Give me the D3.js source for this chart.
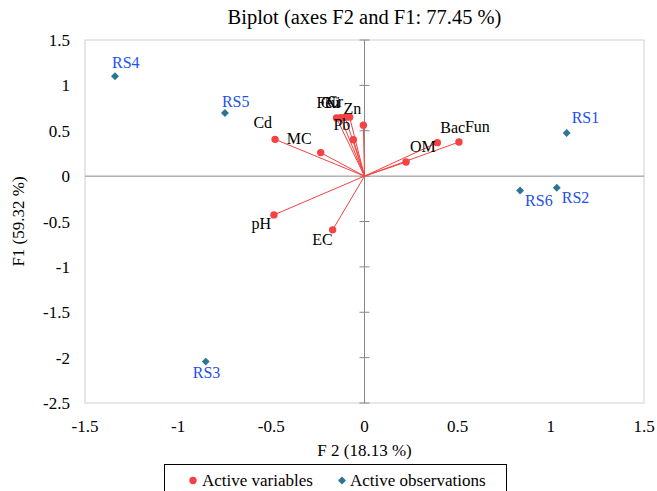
<!DOCTYPE html>
<html>
<head>
<meta charset="utf-8">
<script src="https://cdn.jsdelivr.net/npm/d3@7"></script>
<style>
  body { margin: 0; background: #fff; }
  text { font-family: "Liberation Serif", "Times New Roman", serif; }
</style>
</head>
<body>
<script>
// active variables (loadings on F2, F1)
const varNames = ["Cd", "MC", "pH", "EC", "Pb", "Ni", "Fe", "Cu", "Cr", "Zn", "OM", "Bac", "Fun"];
const varF2 = [-0.48, -0.235, -0.486, -0.171, -0.060, -0.006, -0.150, -0.128, -0.104, -0.080, 0.223, 0.391, 0.507];
const varF1 = [0.405, 0.259, -0.427, -0.592, 0.402, 0.56, 0.640, 0.643, 0.648, 0.650, 0.155, 0.369, 0.376];

// active observations
const obsNames = ["RS1", "RS2", "RS3", "RS4", "RS5", "RS6"];
const obsF2 = [1.085, 1.032, -0.852, -1.339, -0.749, 0.835];
const obsF1 = [0.475, -0.128, -2.044, 1.10, 0.696, -0.158];

const xTicks = [-1.5, -1, -0.5, 0, 0.5, 1, 1.5];
const yTicks = [-2.5, -2, -1.5, -1, -0.5, 0, 0.5, 1, 1.5];

// label placement [dx, dy, anchor]
const varLabel = {
  Cd: [-3, -11, "end"], MC: [-9, -9, "end"], pH: [-3, 14, "end"], EC: [0, 15, "end"],
  Pb: [-3, -10, "end"], Ni: [-39, -17, "start"], Fe: [-20, -10, "start"], Cu: [-20, -10, "start"],
  Cr: [-18, -10, "start"], Zn: [-6, -3, "start"], OM: [4, -10, "start"], Bac: [3, -10, "start"],
  Fun: [6, -10, "start"]
};
const obsLabel = {
  RS1: [5, -10, "start"], RS2: [5, 15, "start"], RS3: [-13, 16, "start"],
  RS4: [-3, -8, "start"], RS5: [-3, -6, "start"], RS6: [5, 16, "start"]
};

const width = 657, height = 491;
const svg = d3.select("body").append("svg").attr("width", width).attr("height", height);

const x = d3.scaleLinear().domain([-1.5, 1.5]).range([85, 644]);
const y = d3.scaleLinear().domain([-2.5, 1.5]).range([403, 40]);

const red = "#f54242", teal = "#2b7594", blue = "#2150ee";

// plot frame
svg.append("rect")
  .attr("x", x(-1.5)).attr("y", y(1.5))
  .attr("width", x(1.5) - x(-1.5)).attr("height", y(-2.5) - y(1.5))
  .attr("fill", "none").attr("stroke", "#cfcfcf").attr("stroke-width", 1);

// zero lines
svg.append("line")
  .attr("x1", x(-1.5)).attr("x2", x(1.5)).attr("y1", y(0)).attr("y2", y(0))
  .attr("stroke", "#888").attr("stroke-width", 1);
svg.append("line")
  .attr("x1", x(0)).attr("x2", x(0)).attr("y1", y(1.5)).attr("y2", y(-2.5))
  .attr("stroke", "#888").attr("stroke-width", 1);
svg.selectAll(".ytickmark").data(yTicks).enter().append("line")
  .attr("x1", x(0) - 5).attr("x2", x(0) + 5)
  .attr("y1", d => y(d)).attr("y2", d => y(d))
  .attr("stroke", "#888").attr("stroke-width", 1);

// tick labels
svg.selectAll(".ylab").data(yTicks).enter().append("text")
  .attr("x", 70).attr("y", d => y(d) + 6)
  .attr("text-anchor", "end").attr("font-size", 17)
  .text(d => d);
svg.selectAll(".xlab").data(xTicks).enter().append("text")
  .attr("x", d => x(d)).attr("y", 432)
  .attr("text-anchor", "middle").attr("font-size", 17)
  .text(d => d);

// titles
svg.append("text").attr("x", x(0)).attr("y", 24)
  .attr("text-anchor", "middle").attr("font-size", 20.5)
  .text("Biplot (axes F2 and F1: 77.45 %)");
svg.append("text").attr("x", x(0)).attr("y", 456)
  .attr("text-anchor", "middle").attr("font-size", 17)
  .text("F 2 (18.13 %)");
svg.append("text")
  .attr("transform", `translate(24,${(y(1.5) + y(-2.5)) / 2}) rotate(-90)`)
  .attr("text-anchor", "middle").attr("font-size", 17)
  .text("F1 (59.32 %)");

// variable vectors
const vars = varNames.map((n, i) => ({ name: n, x: varF2[i], y: varF1[i] }));
svg.selectAll(".vec").data(vars).enter().append("line")
  .attr("x1", x(0)).attr("y1", y(0))
  .attr("x2", d => x(d.x)).attr("y2", d => y(d.y))
  .attr("stroke", red).attr("stroke-width", 1);
svg.selectAll(".vpt").data(vars).enter().append("circle")
  .attr("cx", d => x(d.x)).attr("cy", d => y(d.y)).attr("r", 3.7)
  .attr("fill", red);
svg.selectAll(".vlab").data(vars).enter().append("text")
  .attr("x", d => x(d.x) + varLabel[d.name][0])
  .attr("y", d => y(d.y) + varLabel[d.name][1])
  .attr("text-anchor", d => varLabel[d.name][2])
  .attr("font-size", 16).attr("fill", "#000")
  .text(d => d.name);

// observations
const obs = obsNames.map((n, i) => ({ name: n, x: obsF2[i], y: obsF1[i] }));
const diamond = d3.symbol().type(d3.symbolDiamond2).size(40);
svg.selectAll(".opt").data(obs).enter().append("path")
  .attr("d", diamond)
  .attr("transform", d => `translate(${x(d.x)},${y(d.y)})`)
  .attr("fill", teal);
svg.selectAll(".olab").data(obs).enter().append("text")
  .attr("x", d => x(d.x) + obsLabel[d.name][0])
  .attr("y", d => y(d.y) + obsLabel[d.name][1])
  .attr("text-anchor", d => obsLabel[d.name][2])
  .attr("font-size", 16).attr("fill", blue)
  .text(d => d.name);

// legend
const lg = svg.append("g");
lg.append("rect").attr("x", 164.5).attr("y", 464.5).attr("width", 342).attr("height", 40)
  .attr("fill", "#fff").attr("stroke", "#000").attr("stroke-width", 1);
lg.append("circle").attr("cx", 193).attr("cy", 480.5).attr("r", 3.7).attr("fill", red);
lg.append("text").attr("x", 202).attr("y", 486).attr("font-size", 17).text("Active variables");
lg.append("path").attr("d", diamond).attr("transform", "translate(342,480.5)").attr("fill", teal);
lg.append("text").attr("x", 350).attr("y", 486).attr("font-size", 17).text("Active observations");
</script>
</body>
</html>
